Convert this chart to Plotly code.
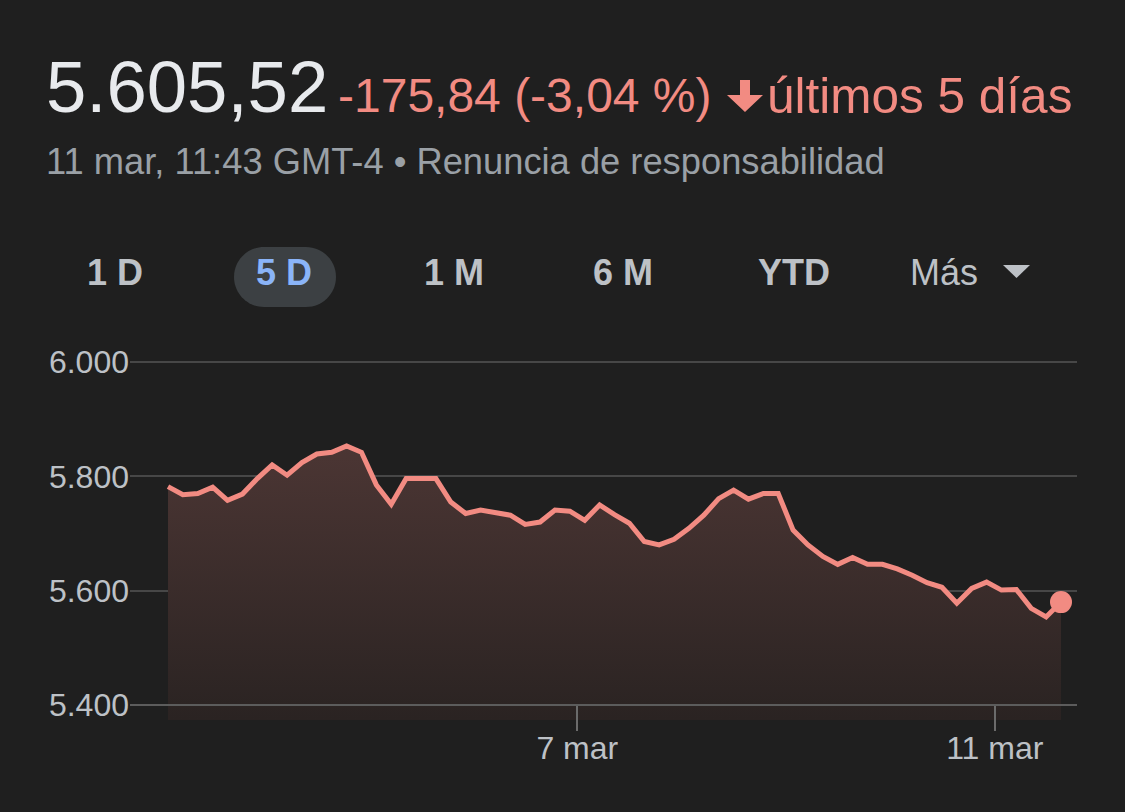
import plotly.graph_objects as go

# ---------------- data ----------------
values = [5782, 5768, 5770, 5781, 5758, 5769, 5796, 5820, 5802, 5824,
          5839, 5842, 5853, 5842, 5785, 5751, 5796, 5797, 5796, 5755,
          5735, 5741, 5736, 5732, 5716, 5720, 5741, 5739, 5723, 5750,
          5733, 5718, 5686, 5680, 5690, 5709, 5732, 5761, 5776, 5760,
          5770, 5770, 5706, 5680, 5660, 5646, 5658, 5646, 5646, 5638,
          5627, 5614, 5606, 5578, 5604, 5615, 5601, 5602, 5569, 5554,
          5580]
x_index = list(range(len(values)))

y_tick_vals = [5400, 5600, 5800, 6000]
y_tick_text = ["5.400", "5.600", "5.800", "6.000"]
x_tick_vals = [27.5, 55.55]
x_tick_text = ["7 mar", "11 mar"]

price_text = "5.605,52"
change_text = "-175,84 (-3,04 %)"
period_text = "últimos 5 días"
subtitle_text = "11 mar, 11:43 GMT-4 • Renuncia de responsabilidad"
buttons = ["1 D", "5 D", "1 M", "6 M", "YTD", "Más"]

# ---------------- layout helpers ----------------
W, H = 1125, 812
BG = "#1f1f1f"
RED = "#f28b82"
FONT = "Liberation Sans, Arial, sans-serif"


def fx(px):
    return px / W


def fy(py):
    return 1 - py / H


def path_px(pts):
    return " ".join(f"{c} {fx(x):.5f},{fy(y):.5f}" if c else f"{fx(x):.5f},{fy(y):.5f}"
                    for c, x, y in pts)


# plot area in pixels
PL, PR, PT, PB = 130, 1077, 352, 720
x_first_px, x_last_px = 168, 1061
pxu = (x_last_px - x_first_px) / (len(values) - 1)
x_range = [(PL - x_first_px) / pxu, (len(values) - 1) + (PR - x_last_px) / pxu]
py6000, py5400 = 362, 705
pyu = (py5400 - py6000) / 600
y_range = [5400 - (PB - py5400) / pyu, 6000 + (py6000 - PT) / pyu]

fig = go.Figure()
fig.add_trace(go.Scatter(
    x=x_index, y=values, mode="lines",
    line=dict(color=RED, width=5),
    fill="tozeroy",
    fillgradient=dict(type="vertical", start=y_range[0], stop=5860,
                      colorscale=[[0, "#2a2322"], [1, "#4c3634"]]),
    hoverinfo="skip", showlegend=False,
))
fig.add_trace(go.Scatter(
    x=[x_index[-1]], y=[values[-1]], mode="markers",
    marker=dict(color=RED, size=22),
    hoverinfo="skip", showlegend=False,
))

annotations = []


def add_text(text, x, y, size, color, anchor="left", weight="normal"):
    annotations.append(dict(
        text=text, x=fx(x), y=fy(y), xref="paper", yref="paper",
        xanchor=anchor, yanchor="middle", showarrow=False,
        font=dict(family=FONT, size=size, color=color, weight=weight),
    ))


add_text(price_text, 44, 87, 72.5, "#e8eaed")
add_text(change_text, 336, 95, 48, RED)
add_text(period_text, 765, 95, 49.5, RED)
add_text(subtitle_text, 44, 161, 36.3, "#9aa0a6")

btn_centers = [115, 284, 454, 623, 794, 944]
for b, cx in zip(buttons, btn_centers):
    color = "#8ab4f8" if b == "5 D" else "#bdc1c6"
    weight = "normal" if b == "Más" else "bold"
    add_text(b, cx, 272, 36, color, anchor="center", weight=weight)

shapes = []
# pill behind the selected button
x0, x1, y0, y1 = 234, 336, 247, 307
r = (y1 - y0) / 2
yc = (y0 + y1) / 2
k = 0.5523 * r
pill = path_px([
    ("M", x0 + r, y0), ("L", x1 - r, y0),
    ("C", x1 - r + k, y0), ("", x1, yc - k), ("", x1, yc),
    ("C", x1, yc + k), ("", x1 - r + k, y1), ("", x1 - r, y1),
    ("L", x0 + r, y1),
    ("C", x0 + r - k, y1), ("", x0, yc + k), ("", x0, yc),
    ("C", x0, yc - k), ("", x0 + r - k, y0), ("", x0 + r, y0),
]) + " Z"
shapes.append(dict(type="path", path=pill, xref="paper", yref="paper",
                   fillcolor="#3c4043", line=dict(width=0), layer="below"))
# down arrow icon
arrow = path_px([("M", 740, 80), ("L", 750, 80), ("L", 750, 95), ("L", 763, 95),
                 ("L", 745, 112), ("L", 727, 95), ("L", 740, 95)]) + " Z"
shapes.append(dict(type="path", path=arrow, xref="paper", yref="paper",
                   fillcolor=RED, line=dict(width=0)))
# dropdown triangle
tri = path_px([("M", 1003, 265), ("L", 1030, 265), ("L", 1016.5, 278)]) + " Z"
shapes.append(dict(type="path", path=tri, xref="paper", yref="paper",
                   fillcolor="#bdc1c6", line=dict(width=0)))

fig.update_layout(
    width=W, height=H,
    margin=dict(l=0, r=0, t=0, b=0),
    paper_bgcolor=BG, plot_bgcolor=BG,
    template="none",
    showlegend=False,
    annotations=annotations,
    shapes=shapes,
    xaxis=dict(
        domain=[fx(PL), fx(PR)], range=x_range,
        anchor="free", position=fy(py5400),
        showgrid=False, zeroline=False,
        showline=True, linecolor="#5c5c5c", linewidth=2,
        ticks="outside", ticklen=25, tickwidth=2, tickcolor="#6b6b6b",
        ticklabelstandoff=-10,
        tickvals=x_tick_vals, ticktext=x_tick_text,
        tickfont=dict(family=FONT, size=32, color="#bdc1c6"),
        automargin=False, fixedrange=True,
    ),
    yaxis=dict(
        domain=[fy(PB), fy(PT)], range=y_range,
        showgrid=True, gridcolor="#474747", gridwidth=2,
        zeroline=False, showline=False, ticks="",
        tickvals=y_tick_vals, ticktext=y_tick_text,
        tickfont=dict(family=FONT, size=32, color="#bdc1c6"),
        automargin=False, fixedrange=True,
    ),
)

fig.write_html(
    "out.html",
    config={"displayModeBar": False},
    post_script="document.body.style.margin='0';"
                "document.body.style.background='#1f1f1f';",
)
